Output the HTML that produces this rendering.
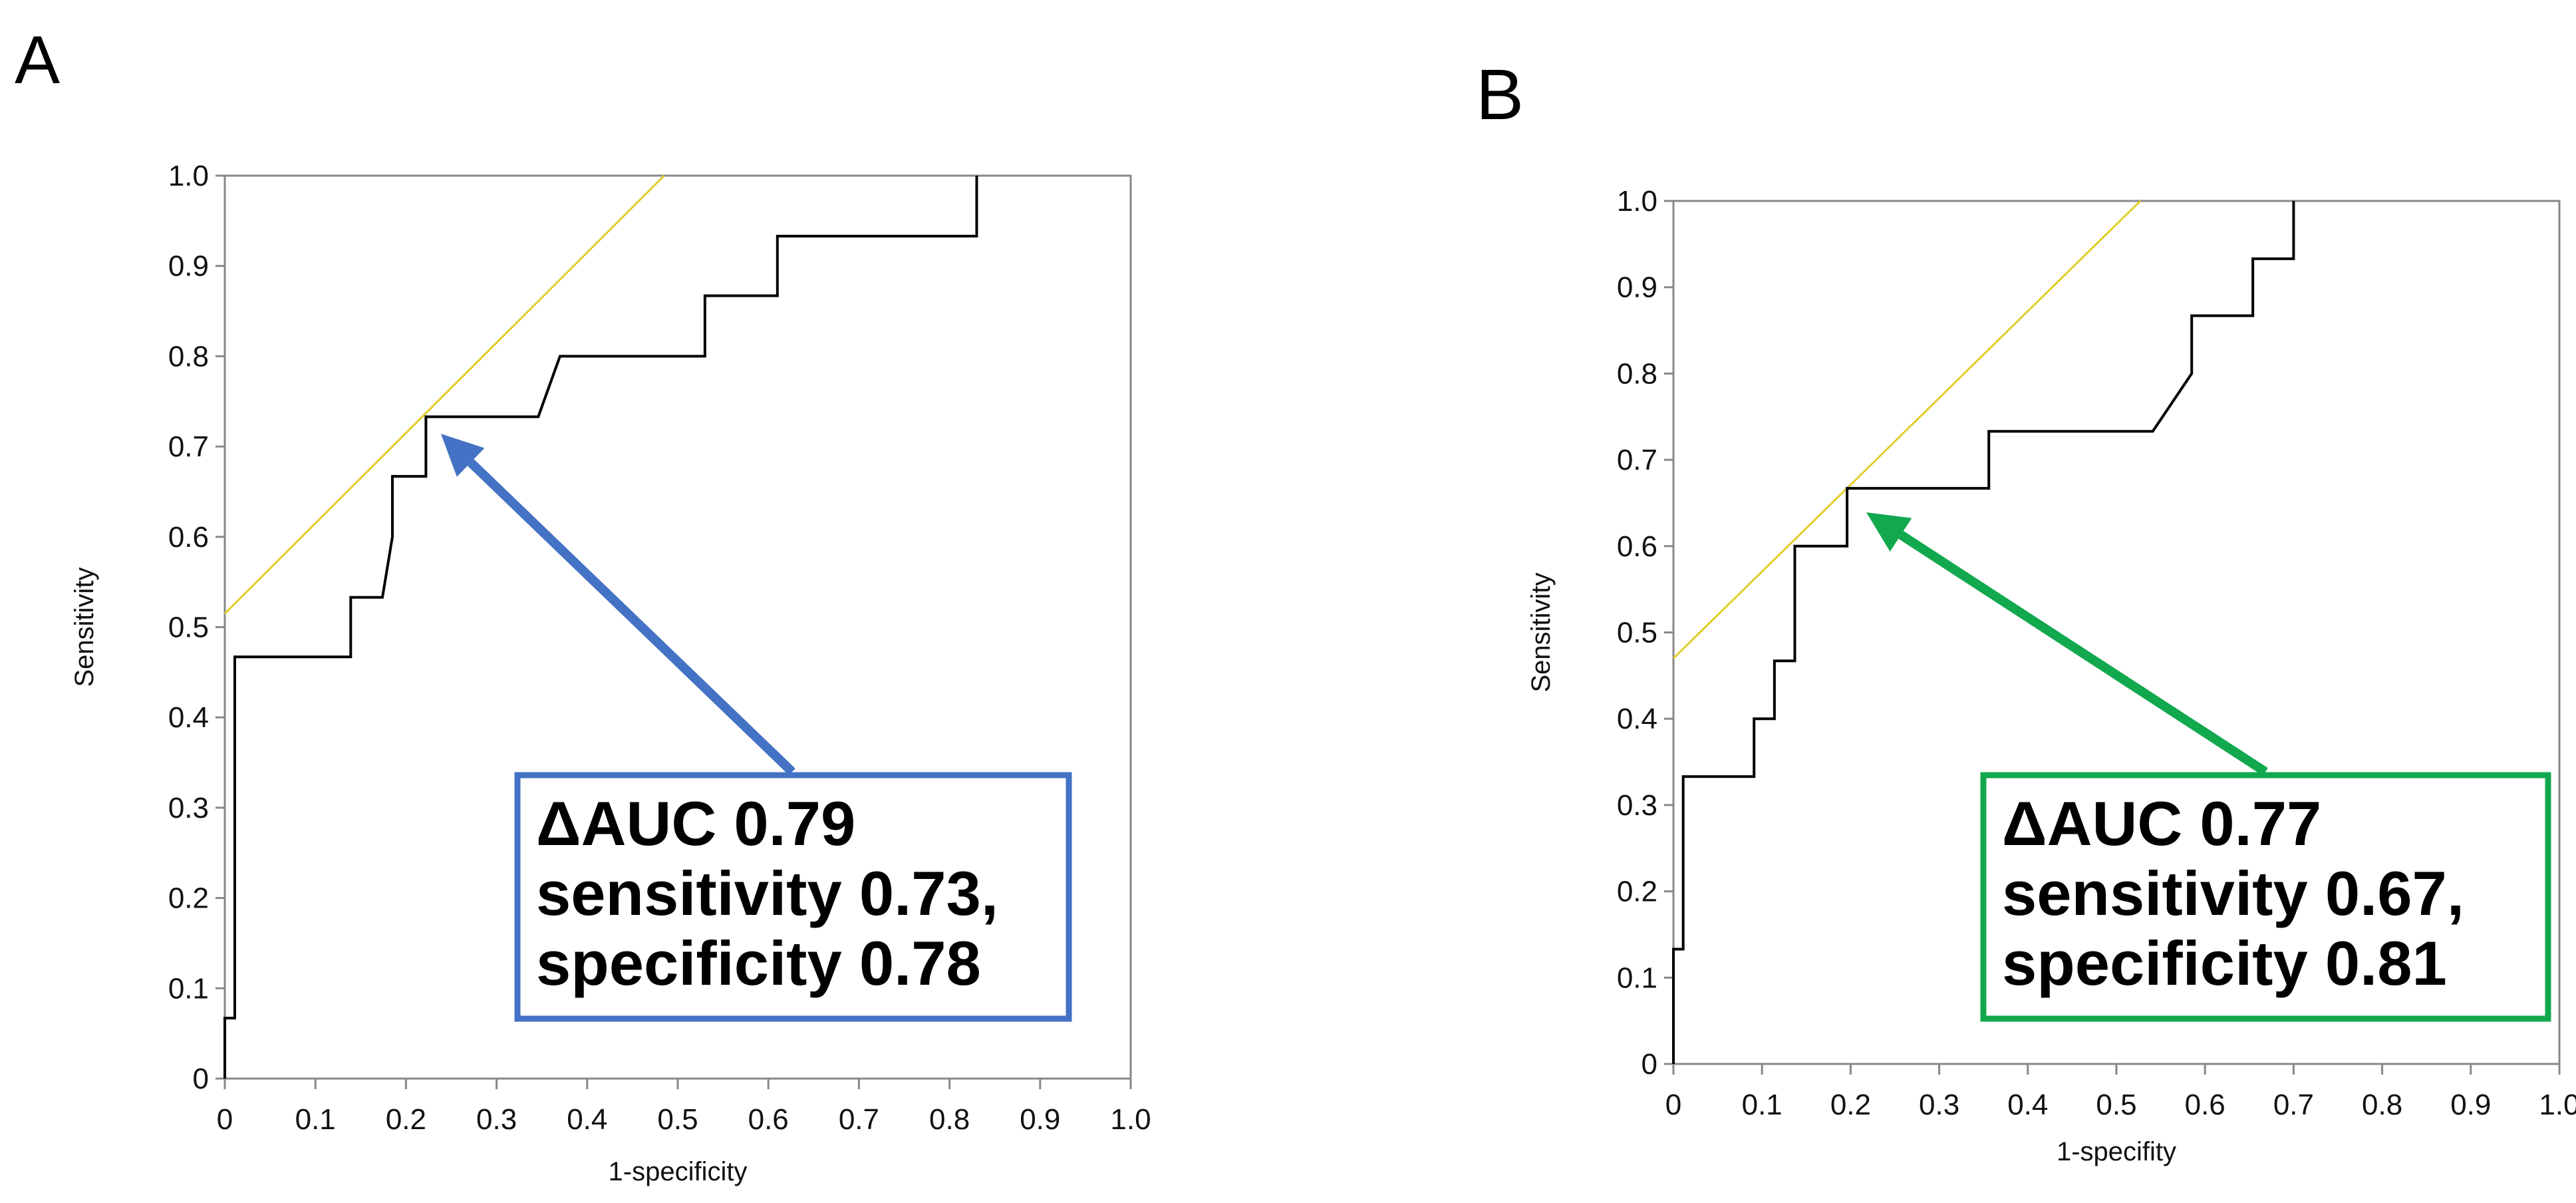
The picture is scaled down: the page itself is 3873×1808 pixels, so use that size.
<!DOCTYPE html>
<html><head><meta charset="utf-8"><style>
html,body{margin:0;padding:0;background:#fff;}
svg{display:block;font-family:"Liberation Sans",Arial,sans-serif;}
</style></head><body>
<svg id="fig" width="3873" height="1808" viewBox="0 0 3873 1808" xmlns="http://www.w3.org/2000/svg">
<text x="22" y="125" font-size="102" fill="#000">A</text>
<text x="2219" y="179" font-size="108" fill="#000">B</text>
<g id="pa"></g>
<g id="pb"></g>
</svg>
<script>
const ticks = [0,0.1,0.2,0.3,0.4,0.5,0.6,0.7,0.8,0.9,1.0];
const tickLabels = ["0","0.1","0.2","0.3","0.4","0.5","0.6","0.7","0.8","0.9","1.0"];
const rocAx = [0,0,0.011,0.011,0.139,0.139,0.174,0.185,0.185,0.222,0.222,0.346,0.37,0.53,0.53,0.61,0.61,0.83,0.83];
const rocAy = [0,0.067,0.067,0.467,0.467,0.533,0.533,0.6,0.667,0.667,0.733,0.733,0.8,0.8,0.867,0.867,0.933,0.933,1.0];
const rocBx = [0,0,0.011,0.011,0.091,0.091,0.114,0.114,0.137,0.137,0.196,0.196,0.356,0.356,0.541,0.585,0.585,0.654,0.654,0.7,0.7];
const rocBy = [0,0.133,0.133,0.333,0.333,0.4,0.4,0.467,0.467,0.6,0.6,0.667,0.667,0.733,0.733,0.8,0.867,0.867,0.933,0.933,1.0];
const youdenAx = [0,0.485];
const youdenAy = [0.515,1.0];
const youdenBx = [0,0.527];
const youdenBy = [0.47,1.0];

const NS="http://www.w3.org/2000/svg";
function mk(tag,attrs,parent,txt){const e=document.createElementNS(NS,tag);for(const k in attrs)e.setAttribute(k,attrs[k]);if(txt!==undefined)e.textContent=txt;parent.appendChild(e);return e;}

function panel(g,L,R,T,B,rx,ry,yx,yy,xTitle,xTitleY,yTitleX,boxCol,box,lines,arrow,pfx){
  const sx=v=>L+(R-L)*v, sy=v=>B-(B-T)*v;
  let e;
  e=mk('rect',{x:L,y:T,width:R-L,height:B-T,fill:'none',stroke:'#888','stroke-width':3},g);
  
  
  ticks.forEach((t,i)=>{
    e=mk('line',{x1:L-14,x2:L,y1:sy(t),y2:sy(t),stroke:'#888','stroke-width':3},g);
    
    
    e=mk('line',{x1:sx(t),x2:sx(t),y1:B,y2:B+16,stroke:'#888','stroke-width':3},g);
    
    
    e=mk('text',{x:L-24,y:sy(t)+15,'font-size':44,'text-anchor':'end',fill:'#111'},g,tickLabels[i]);
    
    
    e=mk('text',{x:sx(t),y:B+76,'font-size':44,'text-anchor':'middle',fill:'#111'},g,tickLabels[i]);
    
    
  });
  e=mk('text',{x:(L+R)/2,y:xTitleY,'font-size':40,'text-anchor':'middle',fill:'#111'},g,xTitle);
  
  
  const cy=(T+B)/2;
  e=mk('text',{x:yTitleX,y:cy,'font-size':40,'text-anchor':'middle',fill:'#111',transform:`rotate(-90 ${yTitleX} ${cy})`},g,'Sensitivity');
  
  
  e=mk('line',{x1:sx(yx[0]),y1:sy(yy[0]),x2:sx(yx[1]),y2:sy(yy[1]),stroke:'#e3cc2a','stroke-width':3},g);
  
  
  e=mk('polyline',{points:rx.map((v,i)=>sx(v)+','+sy(ry[i])).join(' '),fill:'none',stroke:'#000','stroke-width':4},g);
  
  
  const [x1,y1,x2,y2]=arrow;
  const ang=Math.atan2(y2-y1,x2-x1), hl=62, hw=30;
  const bx=x2-hl*Math.cos(ang), by=y2-hl*Math.sin(ang);
  e=mk('line',{x1:x1,y1:y1,x2:bx,y2:by,stroke:boxCol,'stroke-width':14},g);
  
  
  const px=-Math.sin(ang)*hw, py=Math.cos(ang)*hw;
  e=mk('polygon',{points:`${x2},${y2} ${bx+px},${by+py} ${bx-px},${by-py}`,fill:boxCol},g);
  
  
  e=mk('rect',{x:box[0],y:box[1],width:box[2],height:box[3],fill:'#fff',stroke:boxCol,'stroke-width':9},g);
  
  
  lines.forEach((s,i)=>{
    e=mk('text',{x:box[0]+28,y:box[1]+105+i*105,'font-size':94,'font-weight':'bold',fill:'#000'},g,s);
    
    
  });
}
panel(document.getElementById('pa'),338,1700,264,1621,rocAx,rocAy,youdenAx,youdenAy,'1-specificity',1774,140,'#4472c4',
  [778,1165,829,366],['ΔAUC 0.79','sensitivity 0.73,','specificity 0.78'],[1191,1160,663,652],'panel-a');
panel(document.getElementById('pb'),2516,3848,302,1599,rocBx,rocBy,youdenBx,youdenBy,'1-specifity',1744,2330,'#12a84e',
  [2982,1165,849,366],['ΔAUC 0.77','sensitivity 0.67,','specificity 0.81'],[3406,1160,2806,770],'panel-b');
</script>
</body></html>
